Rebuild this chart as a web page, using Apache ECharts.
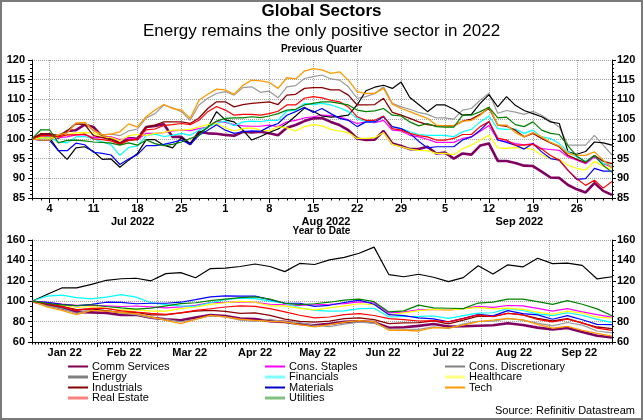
<!DOCTYPE html>
<html><head><meta charset="utf-8">
<script src="https://cdn.jsdelivr.net/npm/echarts@6/dist/echarts.min.js"></script>
<style>html,body{margin:0;padding:0;background:#fff}#c{width:643px;height:420px}</style>
</head><body><div id="c"></div>
<script>
// ---------- DATA ----------
const seriesNames = ['Comm Services','Cons. Staples','Cons. Discretionary','Energy','Financials','Healthcare','Industrials','Materials','Tech','Real Estate','Utilities'];
const qMonthLabels = ['Jul 2022','Aug 2022','Sep 2022'];
const ytdMonthLabels = ['Jan 22','Feb 22','Mar 22','Apr 22','May 22','Jun 22','Jul 22','Aug 22','Sep 22'];
const qStart = '2022-06-30', qEnd = '2022-09-30';
const ytdStart = '2021-12-31', ytdEnd = '2022-09-30';
const ytdStep = 5; // YTD values read every 5th business day

// Previous quarter (rebased 100 = 30 Jun 2022), one value per business day
const qCommServices = [100,101,101,100.3,102,102.2,103.6,103,100.6,100.2,98.8,100.2,100,103,103.3,103.7,100.5,100.5,98.6,101.8,101.4,101.3,101,100.8,101.8,101.6,101.8,101.4,100.9,102.8,103.5,104.5,105.2,105.3,104.3,103.5,102.2,100.1,99.7,99.8,102,98.8,98.2,97.4,97.4,98,96.3,96.5,95,96.3,96,98.3,98.8,94.4,94.4,93.9,93.2,93.1,91.7,90.2,90.1,88.3,87.2,86.4,88.8,86.8,85.8];
const qConsStaples = [100,100.5,100.5,100.3,100.5,101,101,100.3,100.3,100.5,99.8,100.2,99.8,101.4,101.4,101.6,102,102.2,102.1,102.6,103,104.4,104.2,103.6,103.3,103.2,103.2,103.5,103.1,104.3,104.7,105.3,105.6,106,105.9,105.5,104.8,103.9,104.3,104.1,104.7,102.2,102,100.9,100.5,99.9,99.1,99.1,99.1,100.1,100.5,101.9,103.4,99.7,99.4,98.8,98.5,98.8,97.5,97.3,97.1,95.4,94.6,93.7,95.4,93.7,92.8];
const qConsDiscretionary = [100,100.5,100.5,101,102,104,104,102,101,101.2,100.8,102,102.5,105.3,106.4,108.6,107.9,106.9,104.7,108.6,110.3,111.5,112,111.1,113,113.2,111.8,112.1,110.4,113.2,113.5,115.3,115.8,116.2,115.2,114.9,113.2,110.3,110.7,111.5,113.2,109,108.1,107.5,106.7,106.2,105.3,105.3,105,107.3,107.7,109.8,111.6,106.5,107.2,106.8,106.2,107,106,104.5,103,98.4,98.4,98.4,100.9,98.4,95.9];
const qEnergy = [100,100.3,100.3,97,94.8,97.7,98,96.8,94.8,94.9,92.8,94.6,96.3,99.8,99.8,98.4,97.7,100.3,98.8,101.4,102.9,106.9,104.8,104.3,102.2,99.7,100.6,101.6,102.5,103.9,105.8,107.8,107,105.8,105.5,105.7,106,108.6,112.2,113.1,113.6,112.8,114.4,110.5,108.7,106.9,108.6,108.6,107.5,106,106.2,109,111.2,108.1,110.7,108.5,107.2,106.4,105.6,104.3,103.9,96.7,96.1,96.8,99.2,99,98.4];
const qFinancials = [100,100.2,100.3,99.2,99,100.5,100.6,100,99.2,98.5,95.8,97.8,98.2,100.8,101.2,100.6,100.9,101.4,100.9,102.2,103,103.9,104.5,103.3,104.3,104.5,104.4,104.7,104.7,107,107.3,109,108.7,109,108.6,107.9,106.9,105.2,104.3,104.3,105.8,103,102.6,101.8,101.1,100.9,100.9,100.9,100.5,101.8,102.4,104.3,105.8,102.6,102.4,102.5,101.4,102.2,100.5,100.1,98.8,96.7,95.4,94.3,95.8,93.7,93.3];
const qHealthcare = [100,100.3,100.2,100.5,101,101.5,101.6,101.5,100.5,100.3,99.5,100.8,101.1,100.9,101.4,101.6,102.2,102.2,102.4,103,103.6,103.9,102.8,102,102.6,102.8,102.2,102,103.1,102.8,102,103.1,103.6,103.3,102.4,102,101.6,100.1,100.1,100.3,101.6,98.6,98,97.4,97.1,97,96.3,96.3,96,97.5,98.4,99.7,100.9,97.7,97.6,97.8,97.7,97.3,95.9,95,94.8,93.3,92.5,92.1,94.3,93,92.3];
const qIndustrials = [100,101.3,101.3,100.8,102,103.8,103.6,100.8,100.3,99.8,99,99.6,99.8,103,103.5,104.3,104.3,104.3,103.9,105.3,107.7,109.4,109.4,108.1,108.7,109,109.2,109.4,108.7,111.1,111.3,112.8,113,113,112.4,112.4,111.1,108.6,108.6,108.7,110.3,106.7,106,105.2,104.3,103.6,103.3,103.3,103.3,104.5,105,106.2,107.8,103.5,103.2,102.2,100.5,101.4,100.1,99,98,95.8,94.8,94,95.8,94.3,93.7];
const qMaterials = [100,99.6,99.6,97,97,98.9,98.5,96.6,96.3,95.9,93.5,94.9,96,98.3,98.3,98.6,99.1,99.7,98.6,100.9,102.2,103.6,102.2,101.4,101.8,102,101.9,103.1,103.9,106,106.9,108,106.7,107.7,106.4,105.2,104.7,103.1,104.3,104.3,105.6,103.1,102.6,101.4,99.4,97.7,98,98,98,99.7,100.5,102.2,104.4,99.7,99.1,98.4,97.4,98.8,96.7,95,94.6,92,89.7,89.9,92.5,91.8,91.8];
const qTech = [100,99.7,99.7,101,101.5,104,104.2,102.2,101,101.2,101.8,103.8,103,105.6,107.3,108.7,107.7,107.3,105.2,109.8,111.3,112.6,112.4,111.3,113.6,114.9,114.7,114.3,112.8,115.5,115.2,117.2,117.8,117.5,116.6,117,114.9,112,111.5,111.5,112.8,108.8,107.7,106.9,106,105.2,103.5,103.3,103.3,104.5,104.7,106,108,103.5,103.5,101.6,100.5,101.6,100.5,99.1,98.2,96.3,95.8,95.8,96.7,94.6,92.6];
const qRealEstate = [100,100.8,100.8,100.5,101,101,101.2,100,99.8,99.5,98.6,99.6,100,102.3,102.5,103.4,103.6,103.9,103.6,104.7,106.9,108.2,107.3,106,106.2,106.2,106,106.4,107,108.6,108.6,110.3,110.7,110.4,109.8,109.4,108.1,105.6,104.7,104.7,105.8,102.6,102.2,101.4,100.8,100.5,99.7,99.7,100.1,101.1,101.1,103.1,104.4,100.2,99.7,98.4,98.4,98.6,97.4,95.8,94.6,92,89.9,88.2,89.5,87.5,89.2];
const qUtilities = [100,102.3,102.3,99,99.6,99.7,99.5,99.2,99.1,98.9,98.4,99,98.4,99.7,98.8,98.3,98.6,99.2,100.1,100.9,103,104.5,105.2,105.3,105.3,105.6,105.4,105.8,106.4,107.3,107.5,108.6,109,109.4,109.4,109,108.6,107.3,106.9,107.1,107.7,106,105.8,104.3,103.3,103.9,103.1,103,103,106,106,106.9,108,105.3,105.5,103.6,103.1,104.3,102.2,101.4,101.1,98.2,95.6,94.1,95.8,93.3,91.5];

// Year to date (rebased 100 = 31 Dec 2021), read every 5th business day
const ytdCommServices = [100,96.5,93,89.5,89,88.5,86.5,86.8,83.8,82.3,81.3,84,86.5,85.5,83,82.5,80.3,79.7,77.7,76.4,77.8,79.7,80.3,79.5,74,74.5,75.8,77.7,75.2,75.4,76,76.4,78.4,76.7,74.1,72.2,73.7,69.9,66.2,64.4];
const ytdConsStaples = [100,98.8,97.2,96,96,95.5,94.8,95.3,94.5,93.4,94.4,96,98.7,98.8,99.2,98.8,97,96.5,96,96.5,97,97.7,99.3,98.5,88.5,89.5,91.5,91.9,91.2,92.8,95,93.9,95.8,95.4,93,90.2,92.7,89.6,86.8,84.4];
const ytdConsDiscretionary = [100,95.4,92.8,88,92,91.1,88,86.9,83.6,82.3,79.7,82.3,85.6,84.6,81.3,80.3,82.3,79.7,79,76.4,75,77.5,79.5,78.5,73,72.5,72.4,74.9,73.4,77.7,80.3,80.5,83,81.5,78.5,75.8,79.1,76.5,70.8,69];
const ytdEnergy = [100,106.5,113,113,116.5,120.5,122,122.5,120,127,128,123,132,132.5,134,136.5,134,129,137,136,140.5,143,147,153,126,124,126.4,123.5,119.2,123.1,134.7,126.6,135.7,133.6,142.1,136.8,137.3,135.1,121.8,124];
const ytdFinancials = [100,105,106,103.5,102.3,104,106.5,104,98.5,96.7,95.5,95,98.5,101.5,103,102.5,100,98,93.6,91,90.2,90.5,92.8,93,84.5,85,85.2,85.5,83.1,85.8,88.3,88.7,92.7,90.9,87.6,85.8,88.7,86.2,82.2,79.3];
const ytdHealthcare = [100,98,96.3,93.8,94.8,93,91.3,91.8,90.3,90.2,92.8,94.3,96.8,98.5,99.8,99,95.4,95.5,93,91.5,93.5,95.4,97.5,96.7,86.5,88.5,90.8,91.9,91.2,92.5,94,92.5,93.3,91.9,89.2,87.2,90.2,88.4,84.4,83.5];
const ytdIndustrials = [100,97.5,94.8,91.8,92.5,90.4,89,89,86.5,86.5,88.5,90.2,91,90,88,88.5,86.2,82.5,80.3,79.5,80.5,83,83.6,82,78,78.8,79,80.8,77.7,81.4,85.3,85.2,88,86.7,83.2,80.6,82.8,78.4,74.7,73.1];
const ytdMaterials = [100,98.8,97,95.5,96.8,99,98.8,97.5,98,98,99,101.5,104.3,105.2,105,105,101.5,98,98,95,96,98.7,101,97,86.8,85.8,83.7,82.7,79.7,83.2,87,85.6,90.7,87.9,86.6,82.3,85.8,81.8,77.3,77.1];
const ytdTech = [100,94.4,91.1,86.9,91,90.2,88.9,87.9,84.6,81.3,78,82.3,86.2,84.6,82.3,81.3,80.3,79.7,77,74.8,77,79.5,81,80,71.5,71.5,70.8,74,73.7,76.5,79.9,81.4,83.2,81.6,77.2,73.5,75.3,71.4,68.4,65.7];
const ytdRealEstate = [100,97.8,94.8,91,93,93,90.5,89.2,88,87,88.5,91,92.6,94.3,95.5,95,92.8,89.5,86.2,83.6,84.5,86.9,87.9,86,83,82,80.6,81,79.7,82.9,86.6,84.8,88.2,86.5,82.1,79.8,82.5,78.7,73.6,71.4];
const ytdUtilities = [100,98,96.3,95.8,96.5,94.8,93.5,92.3,93.2,95.4,97.7,98.5,100.5,102,103.5,104.3,102,98,96.7,97.5,99,101,102,99.5,89.5,90.5,96.2,93.5,93.1,92.7,98.2,99.1,102.1,102.1,99.6,96.9,100.5,97,92.5,85.7];

// ---------- STYLE ----------
const FONT = 'Arial, "Liberation Sans", Helvetica, sans-serif';
const lineColors = ['#800060','#ff00ff','#999999','#000000','#00ffff','#ffff00','#8b0000','#0000ff','#ff9900','#ff0000','#008000'];
const lineWidths = [2.6,1.2,1.2,1.2,1.2,1.2,1.3,1.2,1.3,1.2,1.2];
const legendColors = ['#80004a','#ff00ff','#808080','#808080','#80ffff','#ffff80','#800000','#0000c0','#ff9900','#ff8080','#80c080'];
const legendThick = [false,false,false,true,true,true,false,false,false,true,true];
const legendPos = [[68,361],[265,361],[445,361],[68,371.5],[265,371.5],[445,371.5],[68,382],[265,382],[445,382],[68,392.5],[265,392.5]];

// ---------- BUILD ----------
function businessDays(a, b) {
  const out = []; let d = new Date(a + 'T00:00:00Z'); const e = new Date(b + 'T00:00:00Z');
  while (d <= e) { const w = d.getUTCDay(); if (w !== 0 && w !== 6) out.push(d.toISOString().slice(0, 10)); d = new Date(d.getTime() + 86400000); }
  return out;
}
const qDates = businessDays(qStart, qEnd);
const ytdDates = businessDays(ytdStart, ytdEnd);
const dow = s => new Date(s + 'T00:00:00Z').getUTCDay();
function monthInfo(dates, labels) {
  const groups = [];
  dates.forEach((d, i) => { if (i === 0) return; const m = d.slice(0, 7); if (!groups.length || groups[groups.length - 1].m !== m) groups.push({ m, first: i, last: i }); else groups[groups.length - 1].last = i; });
  const mids = {}; const starts = new Set();
  groups.forEach((g, k) => { mids[Math.floor((g.first + g.last) / 2)] = labels[k]; if (k > 0) starts.add(g.first); });
  return { mids, starts };
}
const qInfo = monthInfo(qDates, qMonthLabels);
const ytdInfo = monthInfo(ytdDates, ytdMonthLabels);
const isMonday = i => dow(qDates[i]) === 1;
function expand(sampled) { const a = new Array(ytdDates.length).fill(null); sampled.forEach((v, k) => { a[k * ytdStep] = v; }); return a; }

const qData = [qCommServices,qConsStaples,qConsDiscretionary,qEnergy,qFinancials,qHealthcare,qIndustrials,qMaterials,qTech,qRealEstate,qUtilities];
const ytdData = [ytdCommServices,ytdConsStaples,ytdConsDiscretionary,ytdEnergy,ytdFinancials,ytdHealthcare,ytdIndustrials,ytdMaterials,ytdTech,ytdRealEstate,ytdUtilities];

const lbl = { fontSize: 11, fontWeight: 'bold', color: '#000', fontFamily: FONT };
const blackLine = { lineStyle: { color: '#000', width: 1 } };
const dotted = { lineStyle: { type: 'dotted', color: '#a0a0a0', width: 1 } };

const xAxis = [
  { type: 'category', gridIndex: 0, data: qDates, boundaryGap: false, position: 'bottom',
    axisLine: blackLine, axisTick: { interval: i => isMonday(i), length: 5, lineStyle: { color: '#000' } },
    axisLabel: Object.assign({ interval: i => isMonday(i), formatter: v => String(+v.slice(8)), margin: 5 }, lbl),
    splitLine: Object.assign({ show: true, interval: i => isMonday(i) }, dotted) },
  { type: 'category', gridIndex: 0, data: qDates, boundaryGap: false, position: 'bottom',
    axisLine: { show: false }, axisTick: { show: true, interval: 0, length: 2.5, lineStyle: { color: '#000' } },
    axisLabel: { show: false }, splitLine: { show: false } },
  { type: 'category', gridIndex: 0, data: qDates, boundaryGap: false, position: 'bottom',
    axisLine: { show: false }, axisTick: { show: false },
    axisLabel: Object.assign({ interval: i => (i in qInfo.mids), formatter: (v, i) => qInfo.mids[i] || '', margin: 18, padding: [0, 0, 0, 8] }, lbl),
    splitLine: { show: false } },
  { type: 'category', gridIndex: 1, data: ytdDates, boundaryGap: false, position: 'bottom',
    axisLine: blackLine, axisTick: { interval: i => ytdInfo.starts.has(i), length: 5, lineStyle: { color: '#000' } },
    axisLabel: Object.assign({ interval: i => (i in ytdInfo.mids), formatter: (v, i) => ytdInfo.mids[i] || '', margin: 5 }, lbl),
    splitLine: Object.assign({ show: true, interval: i => ytdInfo.starts.has(i) }, dotted) },
  { type: 'category', gridIndex: 1, data: ytdDates, boundaryGap: false, position: 'bottom',
    axisLine: { show: false }, axisTick: { show: true, interval: 0, length: 2.5, lineStyle: { color: '#000' } },
    axisLabel: { show: false }, splitLine: { show: false } }
];
function yAx(grid, pos, min, max, interval, minorSplit, split) {
  return { type: 'value', gridIndex: grid, position: pos, min, max, interval,
    axisLine: { show: true, lineStyle: { color: '#000', width: 1 } },
    axisTick: { show: true, length: 4, lineStyle: { color: '#000' } },
    minorTick: { show: true, splitNumber: minorSplit, length: 2, lineStyle: { color: '#000' } },
    axisLabel: Object.assign({ margin: pos === 'left' ? 7 : 5 }, lbl),
    splitLine: split ? Object.assign({ show: true }, dotted) : { show: false } };
}
const yAxis = [yAx(0, 'left', 85, 120, 5, 5, true), yAx(0, 'right', 85, 120, 5, 5, false),
               yAx(1, 'left', 60, 160, 20, 4, true), yAx(1, 'right', 60, 160, 20, 4, false)];

const series = [];
seriesNames.forEach((n, k) => {
  series.push({ name: n, type: 'line', xAxisIndex: 0, yAxisIndex: 0, data: qData[k], showSymbol: false, symbol: 'none',
    lineStyle: { color: lineColors[k], width: lineWidths[k] }, itemStyle: { color: lineColors[k] } });
  series.push({ name: n, type: 'line', xAxisIndex: 3, yAxisIndex: 2, data: expand(ytdData[k]), connectNulls: true, showSymbol: false, symbol: 'none',
    lineStyle: { color: lineColors[k], width: lineWidths[k] }, itemStyle: { color: lineColors[k] } });
});

const legend = seriesNames.map((n, k) => ({
  data: [{ name: n, icon: 'rect', itemStyle: { color: legendColors[k] } }],
  left: legendPos[k][0], top: legendPos[k][1], padding: 0, itemGap: 0,
  itemWidth: 20, itemHeight: legendThick[k] ? 3 : 2, selectedMode: false,
  textStyle: { fontSize: 11, color: '#000', fontFamily: FONT, padding: [0, 0, 0, -1] }
}));

const option = {
  animation: false,
  backgroundColor: '#fff',
  textStyle: { fontFamily: FONT },
  title: [
    { text: 'Global Sectors', left: 'center', top: 3, padding: 0, textStyle: { fontSize: 17, fontWeight: 'bold', color: '#000', fontFamily: FONT } },
    { text: 'Energy remains the only positive sector in 2022', left: 'center', top: 23, padding: 0, textStyle: { fontSize: 17, fontWeight: 'normal', color: '#000', fontFamily: FONT } },
    { text: 'Previous Quarter', left: 'center', top: 44, padding: 0, textStyle: { fontSize: 10, fontWeight: 'bold', color: '#000', fontFamily: FONT } },
    { text: 'Year to Date', left: 'center', top: 226, padding: 0, textStyle: { fontSize: 10, fontWeight: 'bold', color: '#000', fontFamily: FONT } },
    { text: 'Source: Refinitiv Datastream', right: 8, top: 405, padding: 0, textStyle: { fontSize: 11, fontWeight: 'normal', color: '#000', fontFamily: FONT } }
  ],
  grid: [
    { left: 32, top: 60, width: 580, height: 138, containLabel: false },
    { left: 32, top: 240, width: 580, height: 102, containLabel: false }
  ],
  xAxis, yAxis, series, legend,
  graphic: [{ type: 'rect', shape: { x: 1, y: 1, width: 641, height: 418 }, style: { fill: 'none', stroke: '#7a7a7a', lineWidth: 2 }, silent: true, z: 100 }]
};
const chart = echarts.init(document.getElementById('c'), null, { renderer: 'canvas' });
chart.setOption(option);
</script></body></html>
